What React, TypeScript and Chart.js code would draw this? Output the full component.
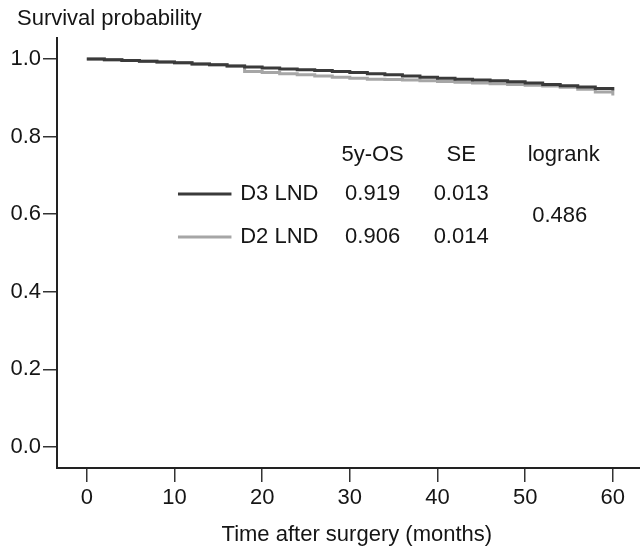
import React, { useEffect, useRef } from "react";
import { Chart, registerables } from "chart.js";

Chart.register(...registerables);

const months = [0, 2, 4, 6, 8, 10, 12, 14, 16, 18, 20, 22, 24, 26, 28, 30, 32, 34, 36, 38, 40, 42, 44, 46, 48, 50, 52, 54, 56, 58, 60];
const d3Survival = [1.0, 0.998, 0.996, 0.994, 0.992, 0.99, 0.987, 0.985, 0.982, 0.979, 0.977, 0.974, 0.972, 0.97, 0.968, 0.965, 0.962, 0.959, 0.956, 0.953, 0.95, 0.948, 0.946, 0.944, 0.941, 0.938, 0.934, 0.931, 0.928, 0.924, 0.919];
const d2Survival = [1.0, 0.998, 0.996, 0.994, 0.992, 0.99, 0.987, 0.985, 0.982, 0.968, 0.965, 0.962, 0.959, 0.956, 0.953, 0.95, 0.948, 0.947, 0.946, 0.944, 0.942, 0.94, 0.938, 0.936, 0.934, 0.932, 0.93, 0.927, 0.922, 0.915, 0.906];
const xTicks = [0, 10, 20, 30, 40, 50, 60];
const yTicks = [0, 0.2, 0.4, 0.6, 0.8, 1.0];
const groupNames = ["D3 LND", "D2 LND"];
const fiveYearOS = ["0.919", "0.906"];
const standardErrors = ["0.013", "0.014"];
const logrankP = "0.486";
const tableHeaders = ["5y-OS", "SE", "logrank"];
const xAxisTitle = "Time after surgery (months)";
const yAxisTitle = "Survival probability";

const FONT = "'Liberation Sans', Arial, sans-serif";
const FONT_SIZE = 22;
const D3_COLOR = "#3a3a3a";
const D2_COLOR = "#a6a6a6";
const TEXT_COLOR = "#151515";

const annotationPlugin = {
  id: "kmAnnotations",
  afterDraw(chart: any) {
    const ctx = chart.ctx;
    const xs = chart.scales.x;
    const ys = chart.scales.y;
    const px = (v: number) => xs.getPixelForValue(v);
    const py = (v: number) => ys.getPixelForValue(v);
    ctx.save();
    ctx.fillStyle = TEXT_COLOR;
    ctx.font = `${FONT_SIZE}px ${FONT}`;
    ctx.textBaseline = "middle";
    ctx.textAlign = "left";
    ctx.fillText(yAxisTitle, 17, 19);

    ctx.textAlign = "center";
    ctx.fillText(xAxisTitle, px(30.8), xs.bottom - 12);

    const headerY = py(0.752);
    const colOS = px(32.6);
    const colSE = px(42.7);
    const colLR = px(54.4);
    ctx.fillText(tableHeaders[0], colOS, headerY);
    ctx.fillText(tableHeaders[1], colSE, headerY);
    ctx.fillText(tableHeaders[2], colLR, headerY);

    const rowYs = [py(0.652), py(0.541)];
    const colors = [D3_COLOR, D2_COLOR];
    for (let i = 0; i < 2; i++) {
      const y = rowYs[i];
      ctx.strokeStyle = colors[i];
      ctx.lineWidth = 3;
      ctx.beginPath();
      ctx.moveTo(px(10.4), y);
      ctx.lineTo(px(16.5), y);
      ctx.stroke();
      ctx.textAlign = "left";
      ctx.fillText(groupNames[i], px(17.5), y);
      ctx.textAlign = "center";
      ctx.fillText(fiveYearOS[i], colOS, y);
      ctx.fillText(standardErrors[i], colSE, y);
    }
    ctx.textAlign = "center";
    ctx.fillText(logrankP, colLR - 4, (rowYs[0] + rowYs[1]) / 2);
    ctx.restore();
  },
};

export default function App() {
  const canvasRef = useRef<HTMLCanvasElement | null>(null);

  useEffect(() => {
    if (!canvasRef.current) return;
    const chart = new Chart(canvasRef.current, {
      type: "line",
      data: {
        datasets: [
          {
            label: groupNames[0],
            data: months.map((m, i) => ({ x: m, y: d3Survival[i] })),
            borderColor: D3_COLOR,
            borderWidth: 3,
            pointRadius: 0,
            stepped: "before",
            fill: false,
          },
          {
            label: groupNames[1],
            data: months.map((m, i) => ({ x: m, y: d2Survival[i] })),
            borderColor: D2_COLOR,
            borderWidth: 3,
            pointRadius: 0,
            stepped: "before",
            fill: false,
          },
        ],
      },
      options: {
        responsive: false,
        animation: false,
        layout: { padding: { left: 0, right: 0, top: 38, bottom: 0 } },
        plugins: {
          legend: { display: false },
          tooltip: { enabled: false },
          title: { display: false },
        },
        scales: {
          x: {
            type: "linear",
            min: -3.4,
            max: 63.1,
            afterBuildTicks: (scale: any) => {
              scale.ticks = xTicks.map((v) => ({ value: v }));
            },
            afterFit: (scale: any) => {
              scale.height = 79;
            },
            grid: {
              drawOnChartArea: false,
              drawTicks: true,
              tickLength: 14,
              color: "#333",
              lineWidth: 1.5,
            },
            border: { display: true, color: "#222", width: 2 },
            ticks: {
              color: TEXT_COLOR,
              font: { size: FONT_SIZE, family: FONT },
              padding: 3,
              maxRotation: 0,
              autoSkip: false,
              callback: (v: any) => String(v),
            },
            title: { display: false },
          },
          y: {
            type: "linear",
            min: -0.054,
            max: 1.054,
            afterBuildTicks: (scale: any) => {
              scale.ticks = yTicks.map((v) => ({ value: v }));
            },
            afterFit: (scale: any) => {
              scale.width = 57;
            },
            grid: {
              drawOnChartArea: false,
              drawTicks: true,
              tickLength: 14,
              color: "#333",
              lineWidth: 1.5,
            },
            border: { display: true, color: "#222", width: 2 },
            ticks: {
              color: TEXT_COLOR,
              font: { size: FONT_SIZE, family: FONT },
              padding: 2,
              autoSkip: false,
              callback: (v: any) => Number(v).toFixed(1),
            },
          },
        },
      },
      plugins: [annotationPlugin],
    } as any);
    return () => chart.destroy();
  }, []);

  return (
    <div style={{ position: "fixed", left: 0, top: 0, width: 640, height: 547, background: "#fff" }}>
      <canvas ref={canvasRef} width={640} height={547} />
    </div>
  );
}
